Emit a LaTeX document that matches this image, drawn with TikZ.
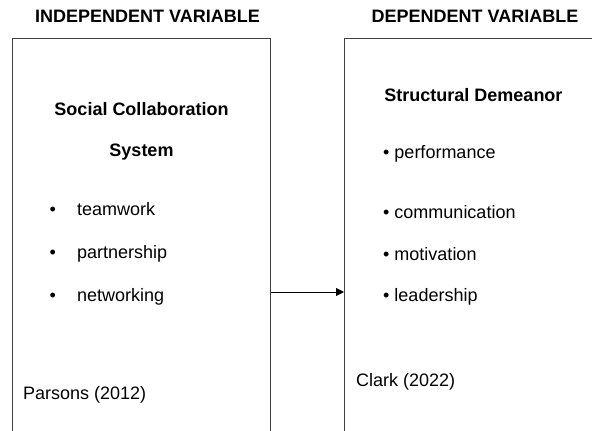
\documentclass[tikz,border=0pt]{standalone}
\usepackage{fontspec}
\setmainfont{Liberation Sans}
\usepackage{tikz}
\usetikzlibrary{calc, arrows.meta, positioning}
\tikzstyle{varbox} = [rectangle, draw=black!75, line width=0.9pt, anchor=north west, inner sep=0pt]
\tikzstyle{heading} = [anchor=base, inner sep=0pt, font=\fontsize{18}{21}\selectfont\bfseries]
\tikzstyle{item} = [anchor=base west, inner sep=0pt, font=\fontsize{18}{21}\selectfont]

\begin{document}
\begin{tikzpicture}[x=1pt, y=-1pt]
        \useasboundingbox (0, 0) rectangle (592, 431);
        \clip (0, 0) rectangle (592, 431);
        \fill[white] (0, 0) rectangle (592, 431);

        \node[heading] at (147.5, 23) (IndepTitle) {INDEPENDENT VARIABLE};
        \node[heading] at (475, 23) (DepTitle) {DEPENDENT VARIABLE};

        \node[varbox, minimum width=258pt, minimum height=440pt] at (12, 38) (IndepBox) {};
        \node[varbox, minimum width=280pt, minimum height=440pt] at (344, 38) (DepBox) {};

        \node[heading] at (141.5, 115) (SocialCollab) {Social Collaboration};
        \node[heading] at (141.5, 156) (System) {System};
        \node[item] at (49.5, 215) (teamwork) {\makebox[27.5pt][l]{•}teamwork};
        \node[item] at (49.5, 258) (partnership) {\makebox[27.5pt][l]{•}partnership};
        \node[item] at (49.5, 301) (networking) {\makebox[27.5pt][l]{•}networking};
        \node[item] at (23, 399) (Parsons) {Parsons (2012)};

        \node[heading] at (473.5, 101) (StructDemeanor) {Structural Demeanor};
        \node[item] at (383, 158) (performance) {• performance};
        \node[item] at (383, 218) (communication) {• communication};
        \node[item] at (383, 260) (motivation) {• motivation};
        \node[item] at (383, 301) (leadership) {• leadership};
        \node[item] at (356, 386) (Clark) {Clark (2022)};

        \coordinate (ArrowStart) at (IndepBox.east |- 0, 292);
        \draw[-{Triangle[length=8pt, width=8pt]}, line width=0.9pt] (ArrowStart) -- (ArrowStart -| DepBox.west);
    \end{tikzpicture}
\end{document}
